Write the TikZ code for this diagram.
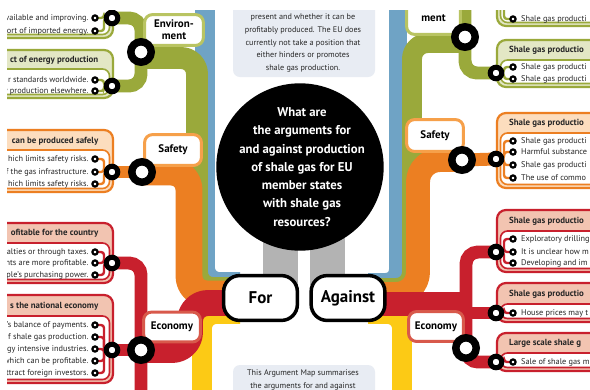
\documentclass[tikz,border=0pt]{standalone}
\usepackage{fontspec}
\setmainfont{PT Sans}
\definecolor{cblue}{HTML}{6FA3C5}
\definecolor{cgreen}{HTML}{9AA93B}
\definecolor{corange}{HTML}{EC7F22}
\definecolor{cred}{HTML}{C8202D}
\definecolor{cyellow}{HTML}{FCCA15}
\definecolor{cgray}{HTML}{B3B3B3}
\definecolor{cinfo}{HTML}{E8ECF3}
\definecolor{hgreen}{HTML}{E3E7C5}
\definecolor{horange}{HTML}{FCDDBE}
\definecolor{hred}{HTML}{F2C4B1}
\definecolor{lgreen}{HTML}{B9C462}
\definecolor{lorange}{HTML}{F6A04A}
\definecolor{lred}{HTML}{D8594B}
\definecolor{ctext}{HTML}{262626}
\newcommand\rowf{\fontsize{8.3}{10}\selectfont}
\newcommand\headf{\fontsize{8.9}{10}\selectfont\bfseries}
\newcommand\labf{\fontsize{11}{12.3}\selectfont\bfseries}
\newcommand\termf{\fontsize{17}{20}\selectfont\bfseries}
\newcommand\titlef{\fontsize{12.8}{18.3}\selectfont\bfseries}
\newcommand\infof{\fontsize{8.2}{12.7}\selectfont}
\newcommand\leftpanel[5]{%
  \draw[line width=2.2pt,draw=#1,fill=#2,rounded corners=9pt] (-30,#3) rectangle (113,#5);
  \draw[line width=1.6pt,draw=#1,fill=white,rounded corners=7pt] (-30,#4) rectangle (109.5,{#5-3.5});}
\newcommand\rightpanel[5]{%
  \draw[line width=2.2pt,draw=#1,fill=#2,rounded corners=9pt] (497,#3) rectangle (640,#5);
  \draw[line width=1.6pt,draw=#1,fill=white,rounded corners=7pt] (500.5,#4) rectangle (640,{#5-3.5});}
\newcommand\leftrows[3]{%
  \foreach \yy/\tx in {#3}{%
    \coordinate (sl\yy) at (95,\yy);
    \draw[twig=#2] (#1) -| ([xshift=9bp]sl\yy) -- (sl\yy);
    \node[smallst] (nsl\yy) at (sl\yy) {};
    \node[rowl] (tl\yy) at (88.5,\yy) {\tx};
  }}
\newcommand\rightrows[3]{%
  \foreach \yy/\tx in {#3}{%
    \coordinate (sr\yy) at (513,\yy);
    \draw[twig=#2] (#1) -| ([xshift=-9bp]sr\yy) -- (sr\yy);
    \node[smallst] (nsr\yy) at (sr\yy) {};
    \node[rowr] (tr\yy) at (521,\yy) {\tx};
  }}
\begin{document}
\begin{tikzpicture}[x=1bp,y=-1bp,
  trunkline/.style={line width=#1,line cap=butt,line join=round},
  feeder/.style={draw=#1,line width=13pt,rounded corners=12pt},
  twig/.style={draw=#1,line width=2.4pt,rounded corners=3pt},
  smallst/.style={circle,draw=black,fill=white,line width=2.2pt,minimum size=5.2pt,inner sep=0pt},
  medst/.style={circle,draw=black,fill=white,line width=5pt,minimum size=11.6pt,inner sep=0pt},
  bigst/.style={circle,draw=black,fill=white,line width=7.5pt,minimum size=20.5pt,inner sep=0pt},
  catlabel/.style={draw=#1,fill=white,line width=3pt,rounded corners=8pt,inner sep=0pt,align=center,font=\labf},
  termbox/.style={draw=black,fill=white,line width=3.5pt,rounded corners=16pt,minimum width=74pt,minimum height=45pt,font=\termf},
  rowl/.style={anchor=mid east,inner sep=0pt,font=\rowf,text=ctext},
  rowr/.style={anchor=mid west,inner sep=0pt,font=\rowf,text=ctext},
  headl/.style={anchor=mid east,inner sep=0pt,font=\headf,text=ctext},
  headr/.style={anchor=mid west,inner sep=0pt,font=\headf,text=ctext}]
\useasboundingbox (0,0) rectangle (590,389);
\fill[white] (0,0) rectangle (590,389);
\begin{scope}
\clip (7,10) rectangle (590,389);
% ---- coordinates
\coordinate (LEb) at (141,52);
\coordinate (LEm1) at (112,18);
\coordinate (LEm2) at (112,86);
\coordinate (LSb) at (142,172);
\coordinate (LSm) at (112,172);
\coordinate (LCb) at (141,350);
\coordinate (LCm1) at (112,263);
\coordinate (LCm2) at (112,350);
\coordinate (REb) at (465,37);
\coordinate (REm1) at (496,-4);
\coordinate (REm2) at (496,73);
\coordinate (RSb) at (462,160);
\coordinate (RSm) at (496,159);
\coordinate (RCb) at (466,348);
\coordinate (RCm1) at (496,252);
\coordinate (RCm2) at (496,313);
\coordinate (RCm3) at (496,362);
\coordinate (fB) at (240,282);
\coordinate (fG) at (240,288);
\coordinate (fO) at (240,294);
\coordinate (fR) at (240,303);
\coordinate (fY) at (240,314);
\coordinate (aB) at (368,282);
\coordinate (aG) at (368,288);
\coordinate (aO) at (368,294);
\coordinate (aR) at (368,304);
\coordinate (aY) at (368,314);
% ---- info boxes and grey bars
\fill[cinfo,rounded corners=7pt] (233,-10) rectangle (375,77);
\node[font=\infof,text=ctext,align=center] (infotop) at (303,43) {present and whether it can be\\profitably produced. The EU does\\currently not take a position that\\either hinders or promotes\\shale gas production.};
\fill[cinfo,rounded corners=7pt] (233,365) rectangle (375,420);
\node[font=\infof,text=ctext,align=center] (infobot) at (303,380) {This Argument Map summarises\\the arguments for and against};
\fill[cgray] (263,220) rectangle (298,285);
\fill[cgray] (310,220) rectangle (345,285);
% ---- trunks left
\draw[trunkline=20pt,cyellow,rounded corners=14pt] (fY) -- (202,314) -- (202,400);
\draw[trunkline=20pt,cblue,rounded corners=14pt] (205,0) -- (205,282) -- (fB);
\draw[trunkline=22pt,cgreen,rounded corners=16pt] ([yshift=-6bp]LEb) -- (197,58) -- (197,288) -- (fG);
\draw[trunkline=27pt,corange,rounded corners=18pt] (LSb) -- (189,172) -- (189,294) -- (fO);
\draw[trunkline=26pt,cred,rounded corners=18pt] (fR) -- (190,303) -- (190,350) -- (LCb);
% ---- trunks right
\draw[trunkline=20pt,cyellow,rounded corners=14pt] (aY) -- (402,314) -- (402,400);
\draw[trunkline=18pt,cblue,rounded corners=12pt] (398,0) -- (398,282) -- (aB);
\draw[trunkline=20pt,cgreen,rounded corners=16pt] ([yshift=-6bp]REb) -- (412,43) -- (412,288) -- (aG);
\draw[trunkline=24pt,corange,rounded corners=22pt] (RSb) -- (418,160) -- (418,294) -- (aO);
\draw[trunkline=24pt,cred] (aR) -- (472,304);
% ---- feeders
\draw[feeder=cgreen] (LEm1) -| (LEb) |- (LEm2);
\draw[feeder=corange] (LSm) -- (LSb);
\draw[feeder=cred] (LCm1) -| (LCb) -- (141,400);
\draw[feeder=cred] (LCm2) -- (LCb);
\draw[feeder=cgreen] (REm1) -| (REb) |- (REm2);
\draw[feeder=corange] (RSm) -- (RSb);
\draw[feeder=cred] (RCm1) -| (RCb) |- (RCm3);
\draw[feeder=cred] (RCm2) -- (RCm2 -| RCb);
% ---- left panels
\leftpanel{cgreen}{hgreen}{-40}{5}{38}
\leftrows{LEm1}{cgreen}{18/vailable and improving.,31/ort of imported energy.}
\leftpanel{cgreen}{hgreen}{50}{69}{98}
\node[headl] (hle2) at (98.5,60) {ct of energy production};
\leftrows{LEm2}{cgreen}{80/r standards worldwide.,91/y production elsewhere.}
\leftpanel{corange}{horange}{130}{150}{192}
\node[headl] (hls) at (98.5,141) {can be produced safely};
\leftrows{LSm}{corange}{159/hich limits safety risks.,172/f the gas infrastructure.,184/hich limits safety risks.}
\leftpanel{cred}{hred}{223}{243}{283}
\node[headl] (hlc1) at (98.5,233) {ofitable for the country};
\leftrows{LCm1}{cred}{252/alties or through taxes.,263/nts are more profitable.,275/ple’s purchasing power.}
\leftpanel{cred}{hred}{295}{316}{383}
\node[headl] (hlc2) at (98.5,306) {s the national economy};
\leftrows{LCm2}{cred}{325/’s balance of payments.,337/f shale gas production.,349/gy intensive industries.,361/which can be profitable.,373/ttract foreign investors.}
% ---- right panels
\rightpanel{cgreen}{hgreen}{-40}{-10}{26}
\rightrows{REm1}{cgreen}{19/Shale gas producti}
\rightpanel{cgreen}{hgreen}{40}{60}{87}
\node[headr] (hre2) at (509,50) {Shale gas productio};
\rightrows{REm2}{cgreen}{67/Shale gas producti,79/Shale gas producti}
\rightpanel{corange}{horange}{113}{133}{188}
\node[headr] (hrs) at (509,123) {Shale gas productio};
\rightrows{RSm}{corange}{141/Shale gas producti,152/Harmful substance,165/Shale gas producti,178/The use of commo}
\rightpanel{cred}{hred}{210}{231}{272}
\node[headr] (hrc1) at (509,221) {Shale gas productio};
\rightrows{RCm1}{cred}{239/Exploratory drilling,252/It is unclear how m,263/Developing and im}
\rightpanel{cred}{hred}{283}{304}{322}
\node[headr] (hrc2) at (509,294) {Shale gas productio};
\rightrows{RCm2}{cred}{313/House prices may t}
\rightpanel{cred}{hred}{333}{353}{371}
\node[headr] (hrc3) at (509,343) {Large scale shale g};
\rightrows{RCm3}{cred}{362/Sale of shale gas m}
% ---- medium stations
\foreach \m in {LEm1,LEm2,LSm,LCm1,LCm2,REm1,REm2,RSm,RCm1,RCm2,RCm3}
  \node[medst] (n\m) at (\m) {};
% ---- category labels
\node[catlabel=lgreen,minimum width=59pt,minimum height=31pt] (envL) at (174,30) {Environ-\\ment};
\node[catlabel=lorange,minimum width=57pt,minimum height=31pt] (safL) at (173,150) {Safety};
\node[catlabel=lred,minimum width=57pt,minimum height=30pt] (ecoL) at (172,327) {Economy};
\node[catlabel=lgreen,minimum width=54pt,minimum height=45pt] (envR) at (433.5,12) {Environ-\\ment};
\node[catlabel=lorange,minimum width=57pt,minimum height=32pt] (safR) at (435,135.5) {Safety};
\node[catlabel=lred,minimum width=55pt,minimum height=30pt] (ecoR) at (436,326.5) {Economy};
% ---- big stations
\foreach \b in {LEb,LSb,LCb,REb,RSb,RCb}
  \node[bigst] (n\b) at (\b) {};
% ---- central question
\node[circle,fill=black,minimum size=168pt,inner sep=0pt] (question) at (300,167) {};
\node[font=\titlef,text=white,align=center] (qtext) at (302,167) {What are\\the arguments for\\and against production\\of shale gas for EU\\member states\\with shale gas\\resources?};
% ---- for / against
\node[termbox] (for) at (260.5,298) {For};
\node[termbox] (against) at (348,298) {Against};
\end{scope}
\end{tikzpicture}
\end{document}
